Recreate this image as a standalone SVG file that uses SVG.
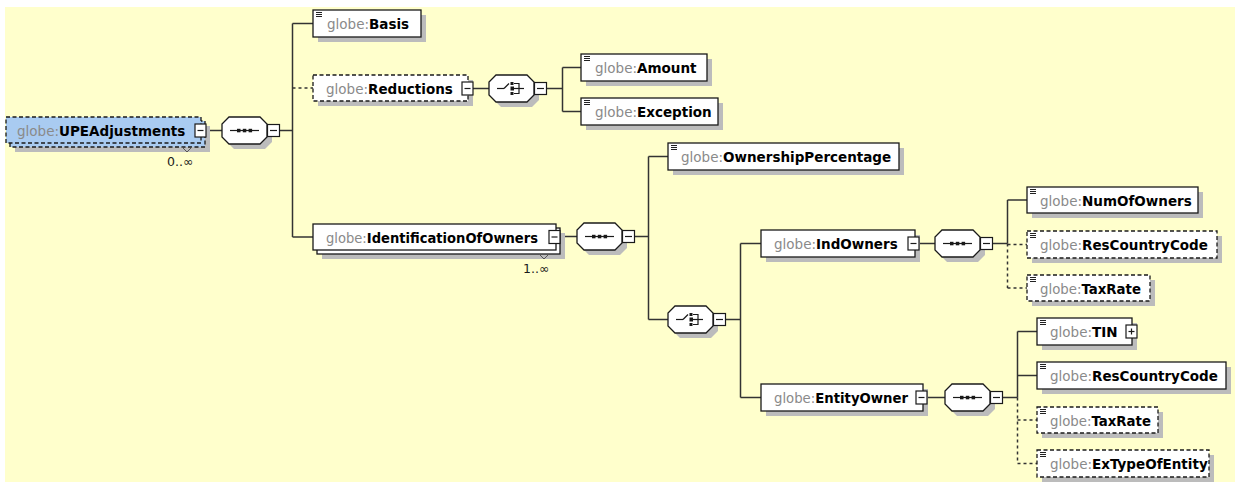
<svg xmlns="http://www.w3.org/2000/svg" xmlns:xlink="http://www.w3.org/1999/xlink" width="1235" height="482" viewBox="0 0 1235 482">
<style>
.bg{fill:#ffffcc}
.box{fill:#ffffff;stroke:#1a1a1a;stroke-width:1.3}
.upe{fill:#a9cbf1;stroke:#1a1a1a;stroke-width:1.3}
.dash{stroke-dasharray:4 2.5}
.sh{fill:#bcbcbc}
text{font-family:"DejaVu Sans","Liberation Sans",sans-serif;font-size:13.5px}
.pre{fill:#8a8a8a}
.nm{fill:#000000;font-weight:bold}
.mult{font-size:12.5px;fill:#1a1a1a}
.conn{stroke:#333333;stroke-width:1.5;fill:none}
.cd{stroke-dasharray:3 3}
.ico{stroke:#222;stroke-width:1}
.tri{fill:none;stroke:#555;stroke-width:1}
</style>
<defs>
<g id="ic" class="ico"><line x1="3" y1="2.5" x2="9" y2="2.5"/><line x1="3" y1="4.5" x2="9" y2="4.5"/><line x1="3" y1="6.5" x2="9" y2="6.5"/></g>
<g id="mn"><rect x="0" y="0" width="11" height="13" fill="#fff" stroke="#1a1a1a" stroke-width="1.2"/><line x1="2.5" y1="6.5" x2="8.5" y2="6.5" stroke="#1a1a1a" stroke-width="1.2"/></g>
<g id="pl"><rect x="0" y="0" width="11" height="13" fill="#fff" stroke="#1a1a1a" stroke-width="1.2"/><line x1="2.5" y1="6.5" x2="8.5" y2="6.5" stroke="#1a1a1a" stroke-width="1.2"/><line x1="5.5" y1="3.5" x2="5.5" y2="9.5" stroke="#1a1a1a" stroke-width="1.2"/></g>
<g id="oct">
<polygon points="12,5 43,5 50,12 50,25 43,32 12,32 5,25 5,12" class="sh"/>
<polygon points="7,0 38,0 45,7 45,20 38,27 7,27 0,20 0,7" fill="#fff" stroke="#1a1a1a" stroke-width="1.3"/>
<rect x="45.5" y="7.5" width="12" height="12" fill="#fff" stroke="#1a1a1a" stroke-width="1.2"/>
<line x1="48" y1="13.5" x2="55" y2="13.5" stroke="#1a1a1a" stroke-width="1.2"/>
</g>
<g id="seq">
<use xlink:href="#oct"/>
<line x1="8" y1="13.5" x2="37" y2="13.5" stroke="#1a1a1a" stroke-width="1.2"/>
<rect x="15" y="11.8" width="3.5" height="3.5" fill="#1a1a1a"/>
<rect x="20.8" y="11.8" width="3.5" height="3.5" fill="#1a1a1a"/>
<rect x="26.6" y="11.8" width="3.5" height="3.5" fill="#1a1a1a"/>
</g>
<g id="cho">
<use xlink:href="#oct"/>
<g stroke="#1a1a1a" stroke-width="1.2" fill="none">
<line x1="8" y1="13.5" x2="15" y2="13.5"/>
<line x1="15" y1="13.5" x2="20" y2="8.5"/>
<polyline points="25,8.5 30,8.5 30,18.5 25,18.5"/>
<line x1="25" y1="13.5" x2="35" y2="13.5"/>
</g>
<rect x="21.5" y="7" width="3" height="3" fill="#1a1a1a"/>
<rect x="21.5" y="11.5" width="3.5" height="4" fill="#1a1a1a"/>
<rect x="21.5" y="17" width="3" height="3" fill="#1a1a1a"/>
</g>
</defs>

<rect x="0" y="0" width="1235" height="482" fill="#ffffff"/>
<rect class="bg" x="5" y="7" width="1230" height="475"/>

<g id="connectors">
<line class="conn" x1="206" y1="130.5" x2="222" y2="130.5"/>
<line class="conn" x1="280" y1="130.5" x2="292.5" y2="130.5"/>
<line class="conn" x1="292.5" y1="23.5" x2="292.5" y2="237"/>
<line class="conn" x1="292.5" y1="23.5" x2="313" y2="23.5"/>
<line class="conn cd" x1="292.5" y1="88" x2="313" y2="88"/>
<line class="conn" x1="292.5" y1="237" x2="313" y2="237"/>
<line class="conn" x1="473" y1="88.5" x2="489" y2="88.5"/>
<line class="conn" x1="547" y1="88.5" x2="562.5" y2="88.5"/>
<line class="conn" x1="562.5" y1="67.5" x2="562.5" y2="111.5"/>
<line class="conn" x1="562.5" y1="67.5" x2="581" y2="67.5"/>
<line class="conn" x1="562.5" y1="111.5" x2="581" y2="111.5"/>
<line class="conn" x1="560" y1="236.5" x2="577" y2="236.5"/>
<line class="conn" x1="635" y1="236.5" x2="648.5" y2="236.5"/>
<line class="conn" x1="648.5" y1="156.5" x2="648.5" y2="319.5"/>
<line class="conn" x1="648.5" y1="156.5" x2="668" y2="156.5"/>
<line class="conn" x1="648.5" y1="319.5" x2="668" y2="319.5"/>
<line class="conn" x1="726" y1="319.5" x2="740.5" y2="319.5"/>
<line class="conn" x1="740.5" y1="243.5" x2="740.5" y2="397.5"/>
<line class="conn" x1="740.5" y1="243.5" x2="761" y2="243.5"/>
<line class="conn" x1="740.5" y1="397.5" x2="761" y2="397.5"/>
<line class="conn" x1="919" y1="243.5" x2="935" y2="243.5"/>
<line class="conn" x1="993" y1="243.5" x2="1007.5" y2="243.5"/>
<line class="conn" x1="1007.5" y1="200" x2="1007.5" y2="243.5"/>
<line class="conn cd" x1="1007.5" y1="243.5" x2="1007.5" y2="288"/>
<line class="conn" x1="1007.5" y1="200" x2="1027" y2="200"/>
<line class="conn cd" x1="1007.5" y1="244.5" x2="1027" y2="244.5"/>
<line class="conn cd" x1="1007.5" y1="288" x2="1027" y2="288"/>
<line class="conn" x1="927" y1="397.5" x2="945" y2="397.5"/>
<line class="conn" x1="1003" y1="397.5" x2="1017.5" y2="397.5"/>
<line class="conn" x1="1017.5" y1="331.5" x2="1017.5" y2="397.5"/>
<line class="conn cd" x1="1017.5" y1="397.5" x2="1017.5" y2="463.5"/>
<line class="conn" x1="1017.5" y1="331.5" x2="1037" y2="331.5"/>
<line class="conn" x1="1017.5" y1="375.5" x2="1037" y2="375.5"/>
<line class="conn cd" x1="1017.5" y1="420" x2="1037" y2="420"/>
<line class="conn cd" x1="1017.5" y1="463.5" x2="1037" y2="463.5"/>
</g>

<g id="UPEAdjustments">
<rect class="sh" x="15" y="126" width="195" height="26"/>
<rect class="upe dash" x="10" y="121" width="195" height="26"/>
<rect class="upe dash" x="6" y="117" width="195" height="26"/>
<text x="17" y="135.5"><tspan class="pre">globe:</tspan><tspan class="nm">UPEAdjustments</tspan></text>
<use xlink:href="#mn" x="195" y="124"/>
<polyline class="tri" points="182,147 187,152 192,147"/>
<text class="mult" x="167" y="166">0..∞</text>
</g>

<g id="seq1"><use xlink:href="#seq" x="222" y="117"/></g>

<g id="Basis">
<rect class="sh" x="318" y="15" width="108" height="27"/>
<rect class="box" x="313" y="10" width="108" height="27"/>
<use xlink:href="#ic" x="313" y="10"/>
<text x="327" y="28.5"><tspan class="pre">globe:</tspan><tspan class="nm">Basis</tspan></text>
</g>

<g id="Reductions">
<rect class="sh" x="318" y="80" width="155" height="26"/>
<rect class="box dash" x="313" y="75" width="155" height="26"/>
<text x="326" y="93.5"><tspan class="pre">globe:</tspan><tspan class="nm">Reductions</tspan></text>
<use xlink:href="#mn" x="462" y="82"/>
</g>

<g id="choice1"><use xlink:href="#cho" x="489" y="75"/></g>

<g id="Amount">
<rect class="sh" x="586" y="59" width="126" height="27"/>
<rect class="box" x="581" y="54" width="126" height="27"/>
<use xlink:href="#ic" x="581" y="54"/>
<text x="595" y="72.5"><tspan class="pre">globe:</tspan><tspan class="nm">Amount</tspan></text>
</g>

<g id="Exception">
<rect class="sh" x="586" y="103" width="137" height="27"/>
<rect class="box" x="581" y="98" width="137" height="27"/>
<use xlink:href="#ic" x="581" y="98"/>
<text x="595" y="116.5"><tspan class="pre">globe:</tspan><tspan class="nm">Exception</tspan></text>
</g>

<g id="IdentificationOfOwners">
<rect class="sh" x="322" y="233" width="243" height="26"/>
<rect class="box" x="317" y="228" width="243" height="26"/>
<rect class="box" x="313" y="224" width="243" height="26"/>
<text x="326" y="242.5" textLength="212" lengthAdjust="spacingAndGlyphs"><tspan class="pre">globe:</tspan><tspan class="nm">IdentificationOfOwners</tspan></text>
<use xlink:href="#mn" x="549" y="230.5"/>
<polyline class="tri" points="539,254 544,259 549,254"/>
<text class="mult" x="523" y="273">1..∞</text>
</g>

<g id="seq2"><use xlink:href="#seq" x="577" y="223"/></g>

<g id="OwnershipPercentage">
<rect class="sh" x="673" y="148" width="231" height="27"/>
<rect class="box" x="668" y="143" width="231" height="27"/>
<use xlink:href="#ic" x="668" y="143"/>
<text x="681" y="161.5"><tspan class="pre">globe:</tspan><tspan class="nm">OwnershipPercentage</tspan></text>
</g>

<g id="choice2"><use xlink:href="#cho" x="668" y="306"/></g>

<g id="IndOwners">
<rect class="sh" x="766" y="235" width="154" height="27"/>
<rect class="box" x="761" y="230" width="154" height="27"/>
<text x="774" y="248.5"><tspan class="pre">globe:</tspan><tspan class="nm">IndOwners</tspan></text>
<use xlink:href="#mn" x="908" y="237"/>
</g>

<g id="seq3"><use xlink:href="#seq" x="935" y="230"/></g>

<g id="NumOfOwners">
<rect class="sh" x="1032" y="192" width="171" height="26"/>
<rect class="box" x="1027" y="187" width="171" height="26"/>
<use xlink:href="#ic" x="1027" y="187"/>
<text x="1040" y="205.5"><tspan class="pre">globe:</tspan><tspan class="nm">NumOfOwners</tspan></text>
</g>

<g id="ResCountryCode1">
<rect class="sh" x="1032" y="236" width="190" height="27"/>
<rect class="box dash" x="1027" y="231" width="190" height="27"/>
<use xlink:href="#ic" x="1027" y="231"/>
<text x="1040" y="249.5"><tspan class="pre">globe:</tspan><tspan class="nm">ResCountryCode</tspan></text>
</g>

<g id="TaxRate1">
<rect class="sh" x="1032" y="280" width="123" height="26"/>
<rect class="box dash" x="1027" y="275" width="123" height="26"/>
<use xlink:href="#ic" x="1027" y="275"/>
<text x="1040" y="293.5" textLength="101" lengthAdjust="spacingAndGlyphs"><tspan class="pre">globe:</tspan><tspan class="nm">TaxRate</tspan></text>
</g>

<g id="EntityOwner">
<rect class="sh" x="766" y="389" width="162" height="27"/>
<rect class="box" x="761" y="384" width="162" height="27"/>
<text x="774" y="402.5" textLength="134" lengthAdjust="spacingAndGlyphs"><tspan class="pre">globe:</tspan><tspan class="nm">EntityOwner</tspan></text>
<use xlink:href="#mn" x="916" y="391"/>
</g>

<g id="seq4"><use xlink:href="#seq" x="945" y="384"/></g>

<g id="TIN">
<rect class="sh" x="1042" y="323" width="95" height="27"/>
<rect class="box" x="1037" y="318" width="95" height="27"/>
<use xlink:href="#ic" x="1037" y="318"/>
<text x="1050" y="336.5"><tspan class="pre">globe:</tspan><tspan class="nm">TIN</tspan></text>
<use xlink:href="#pl" x="1126" y="325"/>
</g>

<g id="ResCountryCode2">
<rect class="sh" x="1042" y="367" width="189" height="27"/>
<rect class="box" x="1037" y="362" width="189" height="27"/>
<use xlink:href="#ic" x="1037" y="362"/>
<text x="1050" y="380.5"><tspan class="pre">globe:</tspan><tspan class="nm">ResCountryCode</tspan></text>
</g>

<g id="TaxRate2">
<rect class="sh" x="1042" y="412" width="121" height="26"/>
<rect class="box dash" x="1037" y="407" width="121" height="26"/>
<use xlink:href="#ic" x="1037" y="407"/>
<text x="1050" y="425.5" textLength="101" lengthAdjust="spacingAndGlyphs"><tspan class="pre">globe:</tspan><tspan class="nm">TaxRate</tspan></text>
</g>

<g id="ExTypeOfEntity">
<rect class="sh" x="1042" y="455" width="172" height="27"/>
<rect class="box dash" x="1037" y="450" width="172" height="27"/>
<use xlink:href="#ic" x="1037" y="450"/>
<text x="1050" y="468.5"><tspan class="pre">globe:</tspan><tspan class="nm">ExTypeOfEntity</tspan></text>
</g>
</svg>
